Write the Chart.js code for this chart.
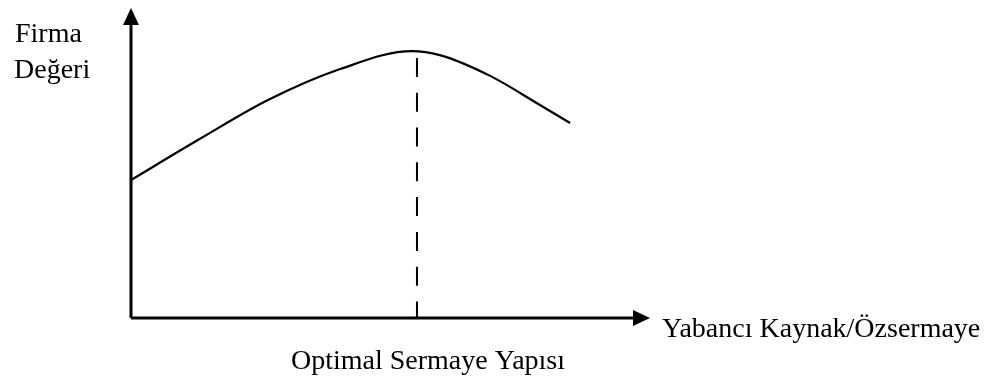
<!DOCTYPE html>
<html>
<head>
<meta charset="utf-8">
<script src="https://cdn.jsdelivr.net/npm/chart.js@4.4.1/dist/chart.umd.min.js"></script>
<style>
  html, body { margin: 0; padding: 0; background: #fff; }
  #wrap { position: relative; width: 996px; height: 381px; }
</style>
</head>
<body>
<div id="wrap"><canvas id="c" width="996" height="381"></canvas></div>
<script>
// firma değeri eğrisi (keyfi birimler, x: borçluluk, y: değer)
var curveX = [0, 13.3, 26.4, 40.3, 54.1, 59.5, 69.2, 78.8, 84.6];
var curveY = [44.5, 57.8, 70.3, 80.3, 86.1, 84.8, 78.1, 68.7, 62.9];
var optimumX = 55.1;
var dashTop = 83.9;
var yLabel = ['Firma', 'Değeri'];
var xLabel = 'Yabancı Kaynak/Özsermaye';
var optLabel = 'Optimal Sermaye Yapısı';

var FONT = '28px "Liberation Serif", "Times New Roman", serif';

// eksenler, oklar, kesikli çizgi ve yazılar
var axesPlugin = {
  id: 'axesArrows',
  afterDatasetsDraw: function (chart) {
    var ctx = chart.ctx;
    var xs = chart.scales.x, ys = chart.scales.y;
    var x0 = xs.getPixelForValue(0), y0 = ys.getPixelForValue(0);
    var xEnd = xs.getPixelForValue(100), yEnd = ys.getPixelForValue(100);
    ctx.save();
    ctx.strokeStyle = '#000';
    ctx.fillStyle = '#000';

    // kesikli optimum çizgisi
    var ox = xs.getPixelForValue(optimumX);
    ctx.lineWidth = 2;
    ctx.setLineDash([19, 15.8]);
    ctx.beginPath();
    ctx.moveTo(ox, ys.getPixelForValue(dashTop));
    ctx.lineTo(ox, y0);
    ctx.stroke();
    ctx.setLineDash([]);

    ctx.lineWidth = 3;
    ctx.beginPath();
    ctx.moveTo(x0, y0);
    ctx.lineTo(x0, yEnd + 12);
    ctx.moveTo(x0, y0);
    ctx.lineTo(xEnd - 12, y0);
    ctx.stroke();

    ctx.beginPath();
    ctx.moveTo(x0, yEnd);
    ctx.lineTo(x0 - 8, yEnd + 17);
    ctx.lineTo(x0 + 8, yEnd + 17);
    ctx.closePath();
    ctx.fill();

    ctx.beginPath();
    ctx.moveTo(xEnd, y0);
    ctx.lineTo(xEnd - 17, y0 - 8);
    ctx.lineTo(xEnd - 17, y0 + 8);
    ctx.closePath();
    ctx.fill();

    ctx.font = FONT;
    ctx.textBaseline = 'alphabetic';
    ctx.textAlign = 'left';
    ctx.fillText(yLabel[0], 15, 42);
    ctx.fillText(yLabel[1], 14, 78);
    ctx.fillText(optLabel, 291, 369);
    ctx.fillText(xLabel, 662, 337);
    ctx.restore();
  }
};

new Chart(document.getElementById('c'), {
  type: 'line',
  data: {
    datasets: [{
      data: curveX.map(function (x, i) { return { x: x, y: curveY[i] }; }),
      borderColor: '#000',
      borderWidth: 2.2,
      pointRadius: 0,
      cubicInterpolationMode: 'monotone',
      fill: false
    }]
  },
  options: {
    responsive: false,
    animation: false,
    layout: { padding: { left: 131, right: 346, top: 8, bottom: 63 } },
    plugins: { legend: { display: false }, tooltip: { enabled: false } },
    scales: {
      x: { type: 'linear', min: 0, max: 100, display: false },
      y: { min: 0, max: 100, display: false }
    }
  },
  plugins: [axesPlugin]
});
</script>
</body>
</html>
